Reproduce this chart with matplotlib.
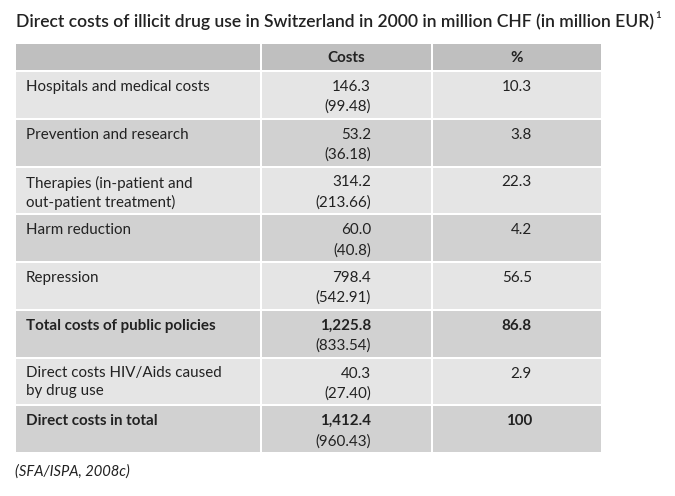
import matplotlib.pyplot as plt
from matplotlib.patches import Rectangle

plt.rcParams['font.family'] = ['Lato', 'DejaVu Sans']

title = "Direct costs of illicit drug use in Switzerland in 2000 in million CHF (in million EUR)"
title_note = "1"
source = "(SFA/ISPA, 2008c)"
headers = ["", "Costs", "%"]

labels = [
    "Hospitals and medical costs",
    "Prevention and research",
    "Therapies (in-patient and\nout-patient treatment)",
    "Harm reduction",
    "Repression",
    "Total costs of public policies",
    "Direct costs HIV/Aids caused\nby drug use",
    "Direct costs in total",
]
costs_chf = ["146.3", "53.2", "314.2", "60.0", "798.4", "1,225.8", "40.3", "1,412.4"]
costs_eur = ["(99.48)", "(36.18)", "(213.66)", "(40.8)", "(542.91)", "(833.54)", "(27.40)", "(960.43)"]
percent = ["10.3", "3.8", "22.3", "4.2", "56.5", "86.8", "2.9", "100"]
is_total = [False, False, False, False, False, True, False, True]

# layout in pixels
W, H = 675, 496
col_x = [(16, 259.5), (261.5, 431), (432.5, 601)]
head_top, head_bot = 44, 70
row0, pitch, cell_h = 72, 47.75, 45.75
line_gap = 20

c_head = "#bfbfbf"
c_light = "#e5e5e5"
c_dark = "#d1d1d1"
txt = "#222222"
fs = 10.9

fig = plt.figure(figsize=(W / 100, H / 100), dpi=100)
ax = fig.add_axes([0, 0, 1, 1])
ax.set_xlim(0, W)
ax.set_ylim(H, 0)
ax.axis("off")

t = ax.text(16, 22, title, fontsize=12.6, fontweight="semibold", color=txt, va="center", ha="left")
fig.canvas.draw()
bb = t.get_window_extent().transformed(ax.transData.inverted())
ax.text(bb.x1 + 1.5, 16, title_note, fontsize=7, fontweight="semibold", color=txt,
        va="center", ha="left")

# header
for (x0, x1), h in zip(col_x, headers):
    ax.add_patch(Rectangle((x0, head_top), x1 - x0, head_bot - head_top, color=c_head, lw=0))
    if h:
        ax.text((x0 + x1) / 2, (head_top + head_bot) / 2 + 1, h, fontsize=fs,
                fontweight="bold", color=txt, ha="center", va="center")

for i, lab in enumerate(labels):
    top = row0 + i * pitch
    color = c_dark if i % 2 else c_light
    for x0, x1 in col_x:
        ax.add_patch(Rectangle((x0, top), x1 - x0, cell_h, color=color, lw=0))
    w = "bold" if is_total[i] else "normal"
    y1 = top + 15
    ax.text(26, y1 - 7, lab, fontsize=fs, fontweight=w, color=txt, ha="left", va="top",
            linespacing=1.33)
    ax.text(371, y1, costs_chf[i], fontsize=fs, fontweight=w, color=txt, ha="right", va="center")
    ax.text(371, y1 + line_gap, costs_eur[i], fontsize=fs, color=txt, ha="right", va="center")
    ax.text(532, y1, percent[i], fontsize=fs, fontweight=w, color=txt, ha="right", va="center")

ax.text(15, 472, source, fontsize=fs - 0.3, style="italic", color=txt, ha="left", va="center")

fig.savefig("out.png", dpi=100, facecolor="white")
